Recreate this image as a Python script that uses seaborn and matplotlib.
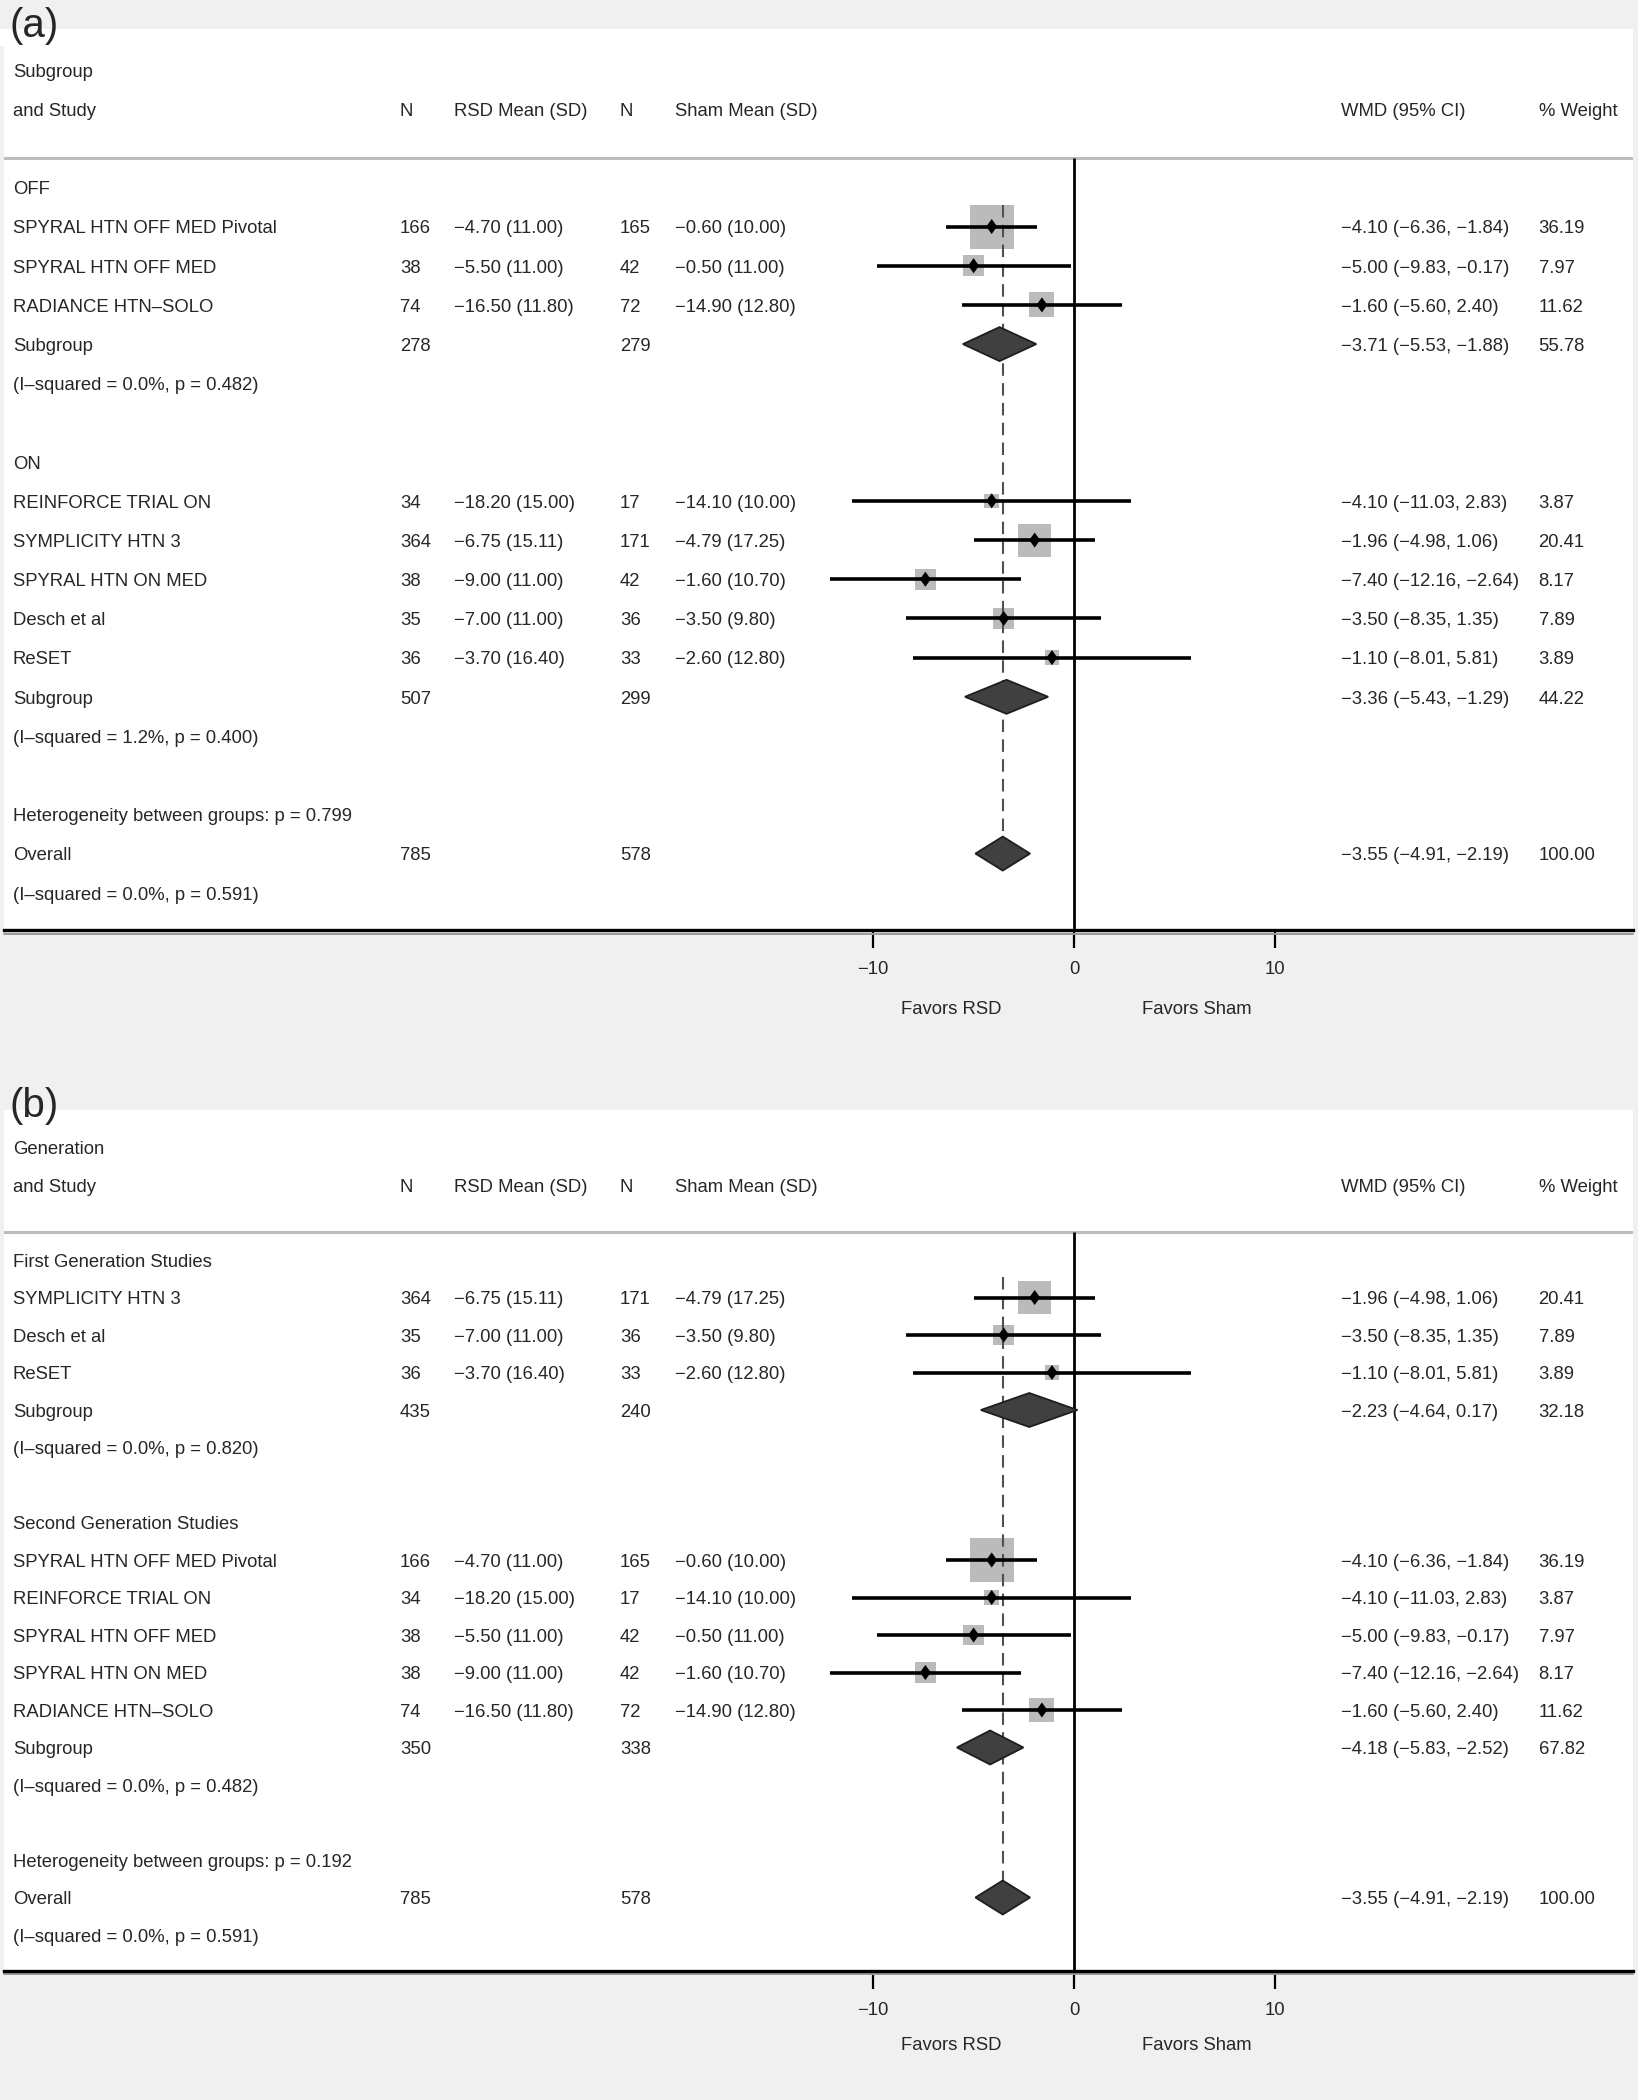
"""Forest plots of RSD vs sham (WMD in office SBP), split by medication status
and by device generation."""
import matplotlib
matplotlib.use("Agg")
import matplotlib.pyplot as plt
import pandas as pd
import seaborn as sns

# study-level results
studies = ["SPYRAL HTN OFF MED Pivotal", "SPYRAL HTN OFF MED", "RADIANCE HTN–SOLO",
           "REINFORCE TRIAL ON", "SYMPLICITY HTN 3", "SPYRAL HTN ON MED", "Desch et al", "ReSET"]
n_rsd = [166, 38, 74, 34, 364, 38, 35, 36]
rsd_mean = [-4.70, -5.50, -16.50, -18.20, -6.75, -9.00, -7.00, -3.70]
rsd_sd = [11.00, 11.00, 11.80, 15.00, 15.11, 11.00, 11.00, 16.40]
n_sham = [165, 42, 72, 17, 171, 42, 36, 33]
sham_mean = [-0.60, -0.50, -14.90, -14.10, -4.79, -1.60, -3.50, -2.60]
sham_sd = [10.00, 11.00, 12.80, 10.00, 17.25, 10.70, 9.80, 12.80]
wmd = [-4.10, -5.00, -1.60, -4.10, -1.96, -7.40, -3.50, -1.10]
ci_low = [-6.36, -9.83, -5.60, -11.03, -4.98, -12.16, -8.35, -8.01]
ci_high = [-1.84, -0.17, 2.40, 2.83, 1.06, -2.64, 1.35, 5.81]
weight = [36.19, 7.97, 11.62, 3.87, 20.41, 8.17, 7.89, 3.89]

# panel (a): by medication status
a_groups = ["OFF", "ON"]
a_members = [[0, 1, 2], [3, 4, 5, 6, 7]]
a_sub_n_rsd = [278, 507]
a_sub_n_sham = [279, 299]
a_sub_wmd = [-3.71, -3.36]
a_sub_low = [-5.53, -5.43]
a_sub_high = [-1.88, -1.29]
a_sub_weight = [55.78, 44.22]
a_sub_i2 = [0.0, 1.2]
a_sub_p = [0.482, 0.400]
a_het_p = 0.799

# panel (b): by device generation
b_groups = ["First Generation Studies", "Second Generation Studies"]
b_members = [[4, 6, 7], [0, 3, 1, 5, 2]]
b_sub_n_rsd = [435, 350]
b_sub_n_sham = [240, 338]
b_sub_wmd = [-2.23, -4.18]
b_sub_low = [-4.64, -5.83]
b_sub_high = [0.17, -2.52]
b_sub_weight = [32.18, 67.82]
b_sub_i2 = [0.0, 0.0]
b_sub_p = [0.820, 0.482]
b_het_p = 0.192

# pooled result
overall_n = [785, 578]
overall_wmd, overall_low, overall_high = -3.55, -4.91, -2.19
overall_i2, overall_p = 0.0, 0.591

FS = 13.3
BG = "#f0f0f0"
TXT_DY = 0.06  # nudge text so its visual centre sits on the row
# text columns, axes fraction
COLS = {"label": 0.0055, "n1": 0.2430, "m1": 0.2760, "n2": 0.3780, "m2": 0.4120,
        "wmd": 0.8210, "w": 0.9420}


def num(v):
    return f"{v:.2f}".replace("-", "\u2212")


def ci_text(est, lo, hi):
    return f"{num(est)} ({num(lo)}, {num(hi)})"


def build_rows(groups, members, sub_n1, sub_n2, sub_est, sub_lo, sub_hi, sub_w,
               sub_i2, sub_p, het_p):
    rows = []
    k = 3
    for g, name in enumerate(groups):
        rows.append(dict(row=k, kind="group", label=name))
        k += 1
        for i in members[g]:
            rows.append(dict(row=k, kind="study", label=studies[i], n1=str(n_rsd[i]),
                             m1=f"{num(rsd_mean[i])} ({rsd_sd[i]:.2f})", n2=str(n_sham[i]),
                             m2=f"{num(sham_mean[i])} ({sham_sd[i]:.2f})",
                             wmd=ci_text(wmd[i], ci_low[i], ci_high[i]), w=f"{weight[i]:.2f}",
                             est=wmd[i], lo=ci_low[i], hi=ci_high[i], weight=weight[i]))
            k += 1
        rows.append(dict(row=k, kind="pooled", label="Subgroup", n1=str(sub_n1[g]),
                         n2=str(sub_n2[g]), wmd=ci_text(sub_est[g], sub_lo[g], sub_hi[g]),
                         w=f"{sub_w[g]:.2f}", est=sub_est[g], lo=sub_lo[g], hi=sub_hi[g]))
        k += 1
        rows.append(dict(row=k, kind="note",
                         label=f"(I\u2013squared = {sub_i2[g]:.1f}%, p = {sub_p[g]:.3f})"))
        k += 2
    rows.append(dict(row=k, kind="note", label=f"Heterogeneity between groups: p = {het_p:.3f}"))
    k += 1
    rows.append(dict(row=k, kind="pooled", label="Overall", n1=str(overall_n[0]),
                     n2=str(overall_n[1]), wmd=ci_text(overall_wmd, overall_low, overall_high),
                     w="100.00", est=overall_wmd, lo=overall_low, hi=overall_high))
    k += 1
    rows.append(dict(row=k, kind="note",
                     label=f"(I\u2013squared = {overall_i2:.1f}%, p = {overall_p:.3f})"))
    return pd.DataFrame(rows)


def draw_panel(ax, title, df, ylim, row_px, favors_off):
    ax.set_facecolor("white")
    trans = ax.get_yaxis_transform()
    bottom = ylim[0]

    # header
    ax.text(COLS["label"], 0 + TXT_DY, title, transform=trans, va="center", fontsize=FS)
    for key, txt in [("label", "and Study"), ("n1", "N"), ("m1", "RSD Mean (SD)"), ("n2", "N"),
                     ("m2", "Sham Mean (SD)"), ("wmd", "WMD (95% CI)"), ("w", "% Weight")]:
        ax.text(COLS[key], 1 + TXT_DY, txt, transform=trans, va="center", fontsize=FS)
    ax.axhline(2.25, color="#bdbdbd", lw=2.2, zorder=1)

    for _, r in df.iterrows():
        for key in COLS:
            val = r.get(key)
            if isinstance(val, str):
                ax.text(COLS[key], r["row"] + TXT_DY, val, transform=trans, va="center",
                        fontsize=FS)

    st = df[df["kind"] == "study"]
    pooled = df[df["kind"] == "pooled"]

    # reference lines
    ax.vlines(0, 2.25, bottom, color="black", lw=2.0, zorder=2.5)
    overall_row = pooled["row"].iloc[-1]
    h = 17.0 / row_px
    ax.vlines(overall_wmd, 3.45, overall_row - h, color="#505050", lw=1.5,
              linestyles=(0, (6, 3.5)), zorder=2.5)

    # weight boxes (area ~ % weight)
    sns.scatterplot(data=st, x="est", y="row", size="weight", sizes=(0, 1004),
                    size_norm=(0, 36.19), marker="s", color="#bbbbbb", edgecolor="none",
                    linewidth=0, legend=False, ax=ax, zorder=2)
    # confidence intervals
    ax.hlines(st["row"], st["lo"], st["hi"], color="black", lw=2.6, zorder=3)
    # point estimates
    sns.scatterplot(data=st, x="est", y="row", marker=[(0, 1), (0.72, 0), (0, -1), (-0.72, 0)],
                    s=118, color="black", edgecolor="none", linewidth=0, legend=False,
                    ax=ax, zorder=5)
    # pooled diamonds
    for _, r in pooled.iterrows():
        ax.fill([r["lo"], r["est"], r["hi"], r["est"]],
                [r["row"], r["row"] - h, r["row"], r["row"] + h],
                facecolor="#404040", edgecolor="#1e1e1e", lw=1.3, zorder=4)

    ax.set_xlim(-53.26, 27.82)
    ax.set_ylim(*ylim)
    ax.set_xlabel("")
    ax.set_ylabel("")
    ax.set_yticks([])
    ax.set_xticks([-10, 0, 10])
    ax.set_xticklabels(["\u221210", "0", "10"])
    ax.tick_params(axis="x", direction="out", length=13, width=1.6, color="black",
                   labelsize=FS, pad=9, bottom=True)
    for side in ["top", "left", "right"]:
        ax.spines[side].set_visible(False)
    ax.spines["bottom"].set_color("black")
    ax.spines["bottom"].set_linewidth(2.4)
    ax.plot([-53.26, 27.82], [bottom + 0.09, bottom + 0.09], color="#9a9a9a", lw=1.4,
            clip_on=False, zorder=1)

    for x, txt in [(-6.1, "Favors RSD"), (6.1, "Favors Sham")]:
        ax.annotate(txt, xy=(x, 0), xycoords=("data", "axes fraction"),
                    xytext=(0, -favors_off), textcoords="offset points",
                    ha="center", va="center", fontsize=FS)


sns.set_theme(style="white")
plt.rcParams["font.family"] = ["Liberation Sans", "DejaVu Sans"]

W, H = 1638, 2100
fig = plt.figure(figsize=(W / 100, H / 100), dpi=100, facecolor=BG)

ax_a = fig.add_axes([4 / W, (H - 930) / H, 1629 / W, (930 - 29) / H])
ax_b = fig.add_axes([4 / W, (H - 1971) / H, 1629 / W, (1971 - 1110) / H])

df_a = build_rows(a_groups, a_members, a_sub_n_rsd, a_sub_n_sham, a_sub_wmd, a_sub_low,
                  a_sub_high, a_sub_weight, a_sub_i2, a_sub_p, a_het_p)
df_b = build_rows(b_groups, b_members, b_sub_n_rsd, b_sub_n_sham, b_sub_wmd, b_sub_low,
                  b_sub_high, b_sub_weight, b_sub_i2, b_sub_p, b_het_p)

draw_panel(ax_a, "Subgroup", df_a, (21.95, -1.04), 39.2, 57)
draw_panel(ax_b, "Generation", df_b, (21.96, -1.0), 37.5, 54)

# panel tags
fig.patches.append(plt.Rectangle((0, (H - 46) / H), 76 / W, 17 / H, transform=fig.transFigure,
                                 facecolor="white", edgecolor="none", zorder=0))
fig.text(9 / W, 1 - 26 / H, "(a)", fontsize=29, va="center", ha="left")
fig.text(9 / W, 1 - 1106 / H, "(b)", fontsize=29, va="center", ha="left")

fig.savefig("out.png", dpi=100, facecolor=BG)
